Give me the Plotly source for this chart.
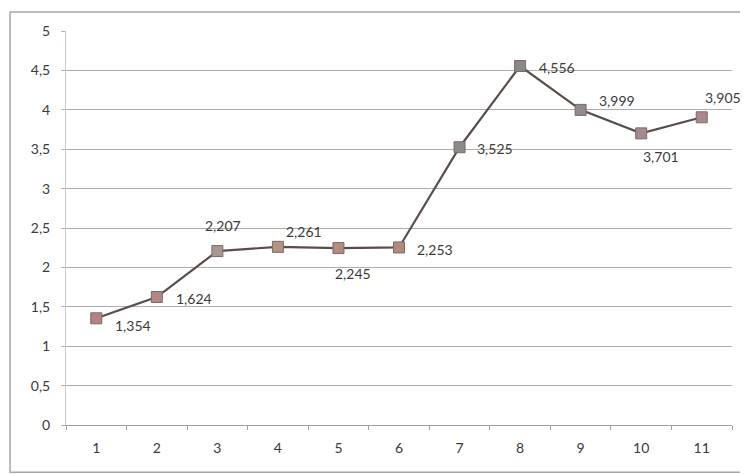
import plotly.graph_objects as go

categories = ["1", "2", "3", "4", "5", "6", "7", "8", "9", "10", "11"]
values = [1.354, 1.624, 2.207, 2.261, 2.245, 2.253, 3.525, 4.556, 3.999, 3.701, 3.905]
y_ticks = [0, 0.5, 1, 1.5, 2, 2.5, 3, 3.5, 4, 4.5, 5]
marker_colors = ["#b48282", "#b48686", "#a89890", "#b4947e", "#b48c82", "#b48a7e",
                 "#8e8a88", "#8a8888", "#908c8c", "#a48a8e", "#a88a8e"]
# label offsets (pixels) relative to each point
label_dx = [37, 37, 6, 26, 15, 36, 35, 37, 36, 20, 21]
label_dy = [-7, -1, 26, 15, -25, -2, -1, -2, 9, -23, 20]

labels = [f"{v:.3f}".replace(".", ",") for v in values]

fig = go.Figure()
fig.add_trace(go.Scatter(
    x=categories, y=values, mode="lines+markers",
    line=dict(color="#5a4c48", width=2.2),
    marker=dict(symbol="square", size=11, color=marker_colors,
                line=dict(color="#7a6a66", width=1)),
    hoverinfo="skip", showlegend=False,
))

for i, (v, t, dx, dy) in enumerate(zip(values, labels, label_dx, label_dy)):
    fig.add_annotation(x=i, y=v, text=t, showarrow=False, xshift=dx, yshift=dy,
                       font=dict(family="Lato, Open Sans, sans-serif", size=14, color="#3a3a3a"))

fig.add_shape(type="rect", xref="paper", yref="paper",
              x0=-0.084, x1=1.0135, y0=-0.12, y1=1.048,
              line=dict(color="#a8a8a8", width=1.5), fillcolor="rgba(0,0,0,0)", layer="below")

fig.update_layout(
    width=740, height=466,
    margin=dict(l=58, r=16, t=23, b=49),
    paper_bgcolor="white", plot_bgcolor="white",
    separators=", ",
    font=dict(family="Lato, Open Sans, sans-serif", size=14, color="#3a3a3a"),
    xaxis=dict(type="category", range=[-0.5, 10.5], showgrid=False,
               showline=True, linecolor="#a0a0a0", linewidth=1,
               ticks="outside", ticklen=4, tickcolor="#a0a0a0",
               tickson="boundaries", ticklabelstandoff=10, zeroline=False,
               automargin=False),
    yaxis=dict(range=[0, 5], tickvals=y_ticks, showgrid=True, gridcolor="#acacac",
               gridwidth=1, showline=True, linecolor="#c8c8c8", linewidth=1,
               ticks="outside", ticklen=4, tickcolor="#b0b0b0",
               ticklabelstandoff=8, zeroline=False, tickformat=".1~f",
               automargin=False),
)

fig.write_html("out.html")
